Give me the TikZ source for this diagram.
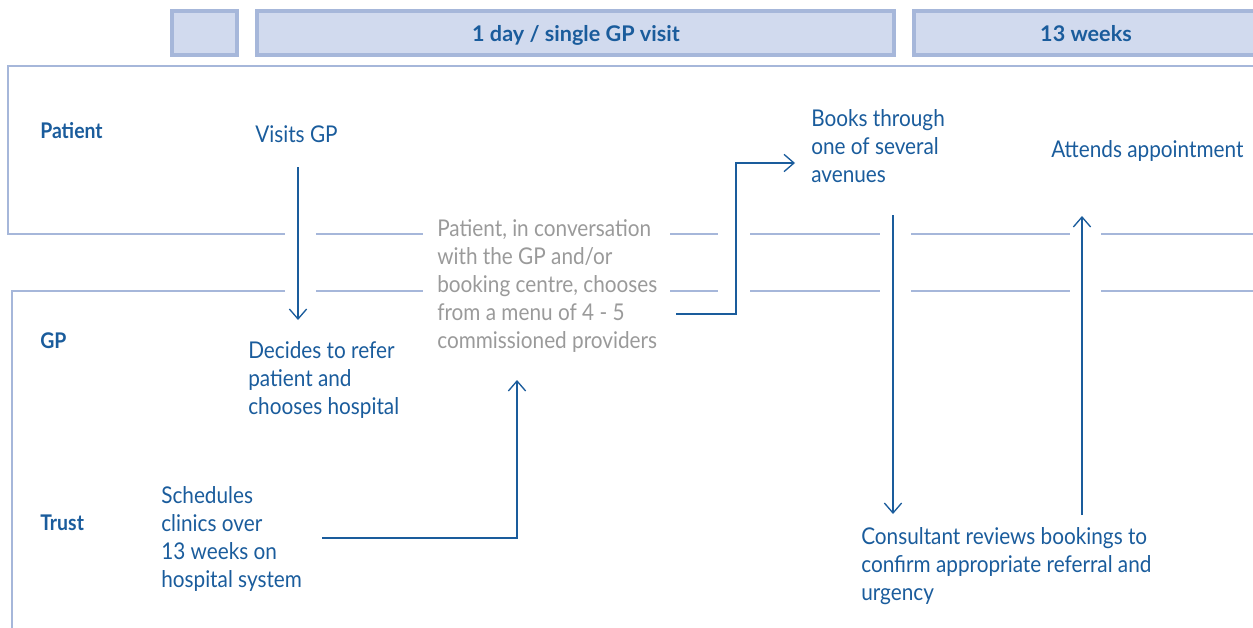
\documentclass[tikz,border=0pt]{standalone}
\usepackage{fontspec}
\setmainfont{Lato}[FakeStretch=0.9]
\newfontfamily\hdrfont{Lato}
\usetikzlibrary{arrows.meta}
\definecolor{txtblue}{HTML}{1A5C9C}
\definecolor{lanecol}{HTML}{A6B7DA}
\definecolor{hdrfill}{HTML}{D1DAEE}
\definecolor{greytxt}{HTML}{9A9A9A}
\newcommand{\mltext}[1]{\begin{tabular}[t]{@{}l@{}}#1\end{tabular}}
\begin{document}
\begin{tikzpicture}[x=0.75pt,y=-0.75pt,
  lane/.style={draw=lanecol,line width=2.2pt},
  hdrbox/.style={draw=lanecol,fill=hdrfill,line width=2.3pt},
  body/.style={anchor=base west,inner sep=0pt,text=txtblue,font=\fontsize{17.3}{21}\selectfont},
  greybody/.style={body,text=greytxt},
  lanelabel/.style={anchor=base west,inner sep=0pt,text=txtblue,font=\fontsize{16.2}{21}\selectfont\bfseries},
  hdrtext/.style={anchor=base,inner sep=0pt,text=txtblue,font=\hdrfont\fontsize{16.2}{20}\selectfont\bfseries},
  arr/.style={draw=txtblue,line width=1pt,-{Straight Barb[length=7.5pt,width=13pt]}},
]
\useasboundingbox (0,0) rectangle (1253,628);
\clip (0,0) rectangle (1253,628);

% header boxes
\draw[hdrbox] (172,11) rectangle (237,55);
\draw[hdrbox] (257,11) rectangle (894,55);
\draw[hdrbox] (914,11) rectangle (1270,55);
\node[hdrtext] (h1) at (576,41) {1 day / single GP visit};
\node[hdrtext] (h2) at (1086,41) {13 weeks};

% lanes
\draw[lane] (1265,66) -- (8,66) -- (8,234) -- (285,234);
\draw[lane] (285,291) -- (12,291) -- (12,640);
\foreach \a/\b in {316/423,670/718,750/880,911/1070,1101/1265} {
  \draw[lane] (\a,234) -- (\b,234);
  \draw[lane] (\a,291) -- (\b,291);
}

% labels
\node[lanelabel] (lpat) at (40,138) {Patient};
\node[lanelabel] (lgp) at (40,348) {GP};
\node[lanelabel] (ltrust) at (40,530) {Trust};

% texts
\node[body] (visits) at (255,142) {Visits GP};
\node[body] (decides) at (248,358) {\mltext{Decides to refer\\patient and\\chooses hospital}};
\node[body] (sched) at (161,503) {\mltext{Schedules\\clinics over\\13 weeks on\\hospital system}};
\node[greybody] (choose) at (437,236) {\mltext{Patient, in conversation\\with the GP and/or\\booking centre, chooses\\from a menu of 4 - 5\\commissioned providers}};
\node[body] (books) at (811,126) {\mltext{Books through\\one of several\\avenues}};
\node[body] (attends) at (1051,157) {Attends appointment};
\node[body] (consult) at (861,544) {\mltext{Consultant reviews bookings to\\confirm appropriate referral and\\urgency}};

% connectors
\coordinate (a1s) at (298,167); \coordinate (a1e) at (298,320);
\draw[arr] (a1s) -- (a1e);
\coordinate (a2s) at (322,538); \coordinate (a2e) at (517,380);
\draw[arr] (a2s) -| (a2e);
\coordinate (a3s) at (676,314); \coordinate (a3k) at (736,163); \coordinate (a3e) at (795,163);
\draw[arr] (a3s) -| (a3k) -- (a3e);
\coordinate (a4s) at (893,215); \coordinate (a4e) at (893,514);
\draw[arr] (a4s) -- (a4e);
\coordinate (a5s) at (1082,515); \coordinate (a5e) at (1082,216);
\draw[arr] (a5s) -- (a5e);
\end{tikzpicture}
\end{document}
